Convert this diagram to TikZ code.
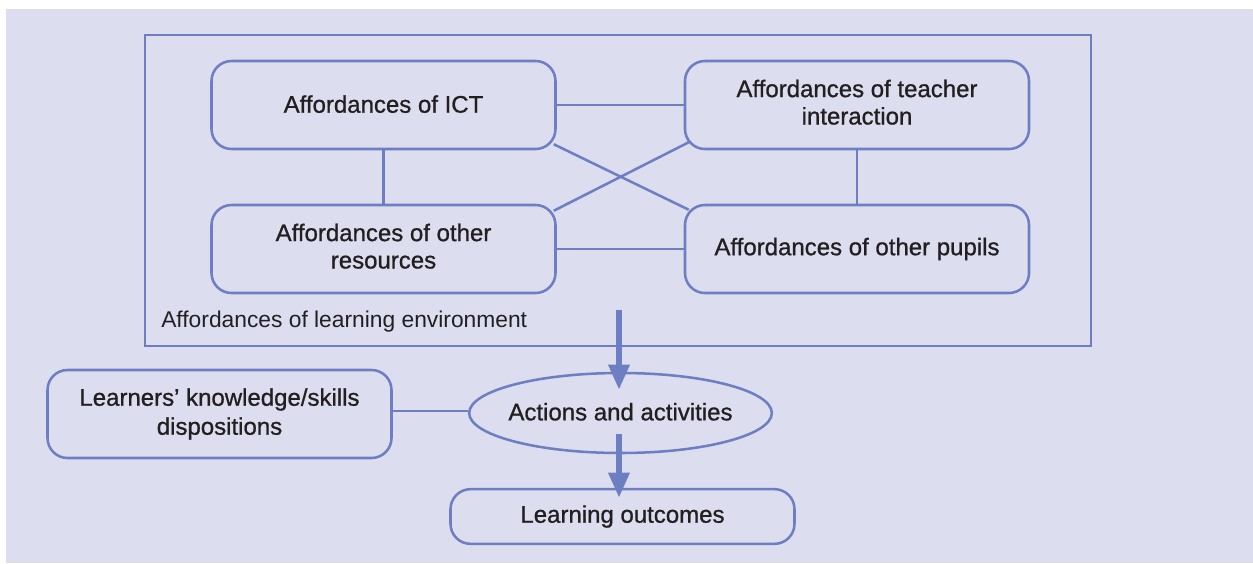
\documentclass[tikz,border=0pt]{standalone}
\usepackage{fontspec}
\setmainfont{Liberation Sans}
\newfontfamily\medfont[FakeBold=0.9]{Liberation Sans}
\usetikzlibrary{arrows.meta,shapes.geometric,calc,backgrounds}
\definecolor{bgc}{HTML}{DCDEF0}
\definecolor{lnc}{HTML}{6E7EC2}
\definecolor{txc}{HTML}{231F20}
\begin{document}
\begin{tikzpicture}[x=0.75pt,y=-0.75pt,
  every node/.style={text=txc},
  boxnode/.style={draw=lnc,line width=1.9pt,rounded corners=15pt,fill=bgc,
    minimum width=258pt,minimum height=66pt,align=center,
    font=\medfont\fontsize{18}{21.75}\selectfont,inner sep=0pt},
  link/.style={draw=lnc,line width=1.9pt},
  bigarrow/.style={draw=lnc,line width=5pt,-{Triangle[width=15pt,length=19pt]}}]
\useasboundingbox (0,0) rectangle (1253,564);
\fill[bgc] (6,9) rectangle (1253,563);
\draw[lnc,line width=1.9pt] (145,35) rectangle (1091,346);
\node[anchor=west,font=\fontsize{17.1}{20}\selectfont,inner sep=0pt] (envlab) at (161,322) {Affordances of learning environment};
\node[boxnode] (ict) at (383.5,105) {\raisebox{1.5pt}{Affordances of ICT}};
\node[boxnode] (tea) at (857,105) {\raisebox{2pt}{\begin{tabular}{@{}c@{}}Affordances of teacher\\[-1.2pt]interaction\end{tabular}}};
\node[boxnode] (res) at (383.5,249) {\raisebox{1.5pt}{\begin{tabular}{@{}c@{}}Affordances of other\\[-1.2pt]resources\end{tabular}}};
\node[boxnode] (pup) at (857,249) {Affordances of other pupils};
\node[draw=lnc,line width=1.9pt,ellipse,minimum width=227pt,minimum height=60pt,
  inner xsep=-5.5pt,inner ysep=0pt,
  font=\medfont\fontsize{18}{21.75}\selectfont] (act) at (620.5,413) {\raisebox{2pt}{Actions and activities}};
\node[boxnode] (lrn) at (219.5,414) {Learners’ knowledge/skills\\dispositions};
\node[boxnode,minimum height=41pt] (out) at (622.5,516.5) {Learning outcomes};
\coordinate (a1s) at (619,310);
\coordinate (a1e) at (619,390);
\coordinate (a2s) at (619,434);
\coordinate (a2e) at (619,498);
\coordinate (lj) at (392,411);
\draw[link] (ict.east) -- (ict.east -| tea.west);
\draw[link] (res.east) -- (res.east -| pup.west);
\draw[link] (ict.south) -- (res.north);
\draw[link] (tea.south) -- (pup.north);
\draw[link] ($(ict.south east)+(-3,-6)$) -- ($(pup.north west)+(5,6)$);
\draw[link] ($(tea.south west)+(5,-8)$) -- ($(res.north east)+(-3,7)$);
\draw[link] (lj) -- (lj -| act.west);
\draw[bigarrow] (a1s) -- (a1e);
\draw[bigarrow] (a2s) -- (a2e);
\end{tikzpicture}
\end{document}
